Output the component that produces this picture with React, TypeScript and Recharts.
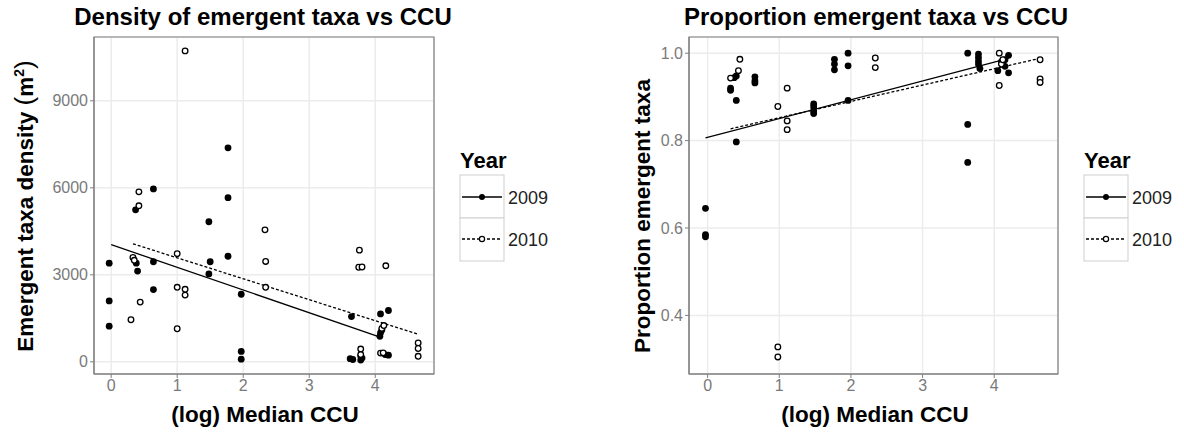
import React from 'react';
import {
  ComposedChart, Scatter, Line, XAxis, YAxis, CartesianGrid, ReferenceArea,
} from 'recharts';

// ---- data ----
const xTicks = [0, 1, 2, 3, 4];
const densityTicks = [0, 3000, 6000, 9000];
const propTicks = [0.4, 0.6, 0.8, 1.0];
const years = ['2009', '2010'];

const density2009 = [
  [-0.03, 3400], [-0.03, 2100], [-0.03, 1230],
  [0.37, 5240], [0.38, 3400], [0.4, 3130],
  [0.64, 5960], [0.64, 3450], [0.64, 2490],
  [1.48, 4830], [1.5, 3450], [1.48, 3030],
  [1.77, 7380], [1.77, 5660], [1.77, 3640],
  [1.97, 2330], [1.97, 360], [1.97, 90],
  [3.64, 1560], [3.62, 110], [3.66, 80], [3.78, 200], [3.78, 60], [3.8, 130],
  [4.08, 1650], [4.08, 1000], [4.1, 1100], [4.07, 880], [4.2, 1770], [4.2, 230], [4.15, 250],
];
const density2010 = [
  [0.3, 1450], [0.33, 3600], [0.35, 3500], [0.42, 5380], [0.42, 5860], [0.44, 2060],
  [1.0, 3730], [1.0, 2570], [1.0, 1140], [1.12, 2500], [1.12, 2300], [1.12, 10720],
  [2.33, 4550], [2.34, 3460], [2.34, 2570],
  [3.76, 3850], [3.75, 3260], [3.8, 3270], [4.16, 3310],
  [3.78, 440], [3.78, 250], [4.08, 300], [4.12, 310], [4.1, 1150], [4.13, 1250],
  [4.65, 650], [4.65, 460], [4.65, 190],
];
const densityFit2009 = [[0, 4040], [4.04, 880]];
const densityFit2010 = [[0.33, 4070], [4.65, 950]];

const prop2009 = [
  [-0.03, 0.645], [-0.03, 0.585], [-0.03, 0.58],
  [0.32, 0.92], [0.32, 0.915], [0.4, 0.948], [0.4, 0.892], [0.4, 0.797], [0.37, 0.944],
  [0.66, 0.946], [0.66, 0.937], [0.66, 0.932],
  [1.48, 0.884], [1.48, 0.877], [1.48, 0.868], [1.48, 0.862],
  [1.77, 0.986], [1.77, 0.975], [1.77, 0.962],
  [1.96, 1.0], [1.96, 0.971], [1.96, 0.892],
  [3.63, 1.0], [3.63, 0.837], [3.63, 0.75],
  [3.78, 0.998], [3.78, 0.99], [3.78, 0.982], [3.78, 0.975], [3.8, 0.965],
  [4.05, 0.96], [4.1, 0.98], [4.12, 0.975], [4.15, 0.985], [4.2, 0.995], [4.2, 0.955], [4.15, 0.97],
];
const prop2010 = [
  [0.32, 0.943], [0.45, 0.986], [0.43, 0.96],
  [0.98, 0.878], [0.98, 0.328], [0.98, 0.305],
  [1.11, 0.92], [1.11, 0.845], [1.11, 0.825],
  [2.34, 0.989], [2.34, 0.967],
  [4.07, 1.0], [4.07, 0.926], [4.1, 0.975], [4.12, 0.985],
  [4.64, 0.985], [4.64, 0.941], [4.64, 0.933],
];
const propFit2009 = [[-0.03, 0.806], [4.2, 0.988]];
const propFit2010 = [[0.32, 0.827], [4.66, 0.989]];

const toPts = (arr: number[][]) => arr.map(([x, y]) => ({ x, y }));

const FONT = '"Liberation Sans", Arial, sans-serif';
const X_DOMAIN = [-0.26, 4.89];

const Filled = (p: any) => <circle cx={p.cx} cy={p.cy} r={3.4} fill="#000" />;
const Open = (p: any) => <circle cx={p.cx} cy={p.cy} r={2.8} fill="#fff" stroke="#000" strokeWidth={1.3} />;

function YearLegend({ left }: { left: number }) {
  return (
    <svg width={110} height={120} style={{ position: 'absolute', left, top: 146, fontFamily: FONT, overflow: 'visible' }}>
      <text x={2} y={22} fontSize={22} fontWeight="bold" fill="#000">Year</text>
      <rect x={2} y={29} width={44} height={43} fill="#fff" stroke="#cfcfcf" />
      <rect x={2} y={72} width={44} height={43} fill="#fff" stroke="#cfcfcf" />
      <line x1={4} x2={44} y1={51} y2={51} stroke="#000" strokeWidth={1.3} />
      <circle cx={24} cy={51} r={3} fill="#000" />
      <line x1={4} x2={44} y1={93} y2={93} stroke="#000" strokeWidth={1.3} strokeDasharray="3 2" />
      <circle cx={24} cy={93} r={2.6} fill="#fff" stroke="#000" strokeWidth={1.2} />
      <text x={50} y={58} fontSize={18} fill="#222">{years[0]}</text>
      <text x={50} y={100} fontSize={18} fill="#222">{years[1]}</text>
    </svg>
  );
}

interface PanelProps {
  d2009: number[][];
  d2010: number[][];
  f2009: number[][];
  f2010: number[][];
  yTicks: number[];
  yDomain: number[];
  yFmt: (v: number) => string;
  marginLeft: number;
  marginRight: number;
}

function Panel({ d2009, d2010, f2009, f2010, yTicks, yDomain, yFmt, marginLeft, marginRight }: PanelProps) {
  const tick = { fontSize: 16, fill: '#7a7a7a', fontFamily: FONT };
  return (
    <ComposedChart width={592} height={432} margin={{ top: 37, right: marginRight, bottom: 28, left: marginLeft }}>
      <CartesianGrid stroke="#ececec" strokeWidth={1.5} />
      <XAxis
        type="number" dataKey="x" domain={X_DOMAIN} ticks={xTicks} allowDataOverflow
        height={30} tick={tick} tickSize={4} stroke="#7f7f7f" tickLine={{ stroke: '#7f7f7f' }}
      />
      <YAxis
        type="number" dataKey="y" domain={yDomain} ticks={yTicks} allowDataOverflow
        width={50} tick={tick} tickSize={4} tickFormatter={yFmt} stroke="#7f7f7f" tickLine={{ stroke: '#7f7f7f' }}
      />
      <ReferenceArea x1={X_DOMAIN[0]} x2={X_DOMAIN[1]} y1={yDomain[0]} y2={yDomain[1]} fill="none" stroke="#7f7f7f" strokeWidth={1.2} />
      <Line data={toPts(f2009)} dataKey="y" type="linear" stroke="#000" strokeWidth={1.3} dot={false} isAnimationActive={false} />
      <Line data={toPts(f2010)} dataKey="y" type="linear" stroke="#000" strokeWidth={1.3} strokeDasharray="3 2" dot={false} isAnimationActive={false} />
      <Scatter data={toPts(d2009)} shape={Filled} isAnimationActive={false} />
      <Scatter data={toPts(d2010)} shape={Open} isAnimationActive={false} />
    </ComposedChart>
  );
}

const abs = (style: React.CSSProperties): React.CSSProperties => ({ position: 'absolute', fontFamily: FONT, color: '#000', whiteSpace: 'nowrap', ...style });

export default function App() {
  return (
    <div style={{ position: 'absolute', left: 0, top: 0, width: 1184, height: 432, background: '#fff', overflow: 'hidden' }}>
      <div style={{ position: 'absolute', left: 0, top: 0 }}>
        <Panel
          d2009={density2009} d2010={density2010} f2009={densityFit2009} f2010={densityFit2010}
          yTicks={densityTicks} yDomain={[-420, 11200]} yFmt={(v) => String(v)}
          marginLeft={44} marginRight={158}
        />
      </div>
      <div style={{ position: 'absolute', left: 592, top: 0 }}>
        <Panel
          d2009={prop2009} d2010={prop2010} f2009={propFit2009} f2010={propFit2010}
          yTicks={propTicks} yDomain={[0.266, 1.037]} yFmt={(v) => v.toFixed(1)}
          marginLeft={47} marginRight={126}
        />
      </div>
      <YearLegend left={458} />
      <YearLegend left={1082} />

      <div style={abs({ left: 263, top: 17, transform: 'translate(-50%,-50%)', fontSize: 24, fontWeight: 'bold' })}>
        Density of emergent taxa vs CCU
      </div>
      <div style={abs({ left: 876, top: 17, transform: 'translate(-50%,-50%)', fontSize: 24, fontWeight: 'bold' })}>
        Proportion emergent taxa vs CCU
      </div>

      <div style={abs({ left: 265, top: 415, transform: 'translate(-50%,-50%)', fontSize: 22.5, fontWeight: 'bold' })}>
        (log) Median CCU
      </div>
      <div style={abs({ left: 875, top: 415, transform: 'translate(-50%,-50%)', fontSize: 22.5, fontWeight: 'bold' })}>
        (log) Median CCU
      </div>

      <div style={abs({ left: 24, top: 206, transform: 'translate(-50%,-50%) rotate(-90deg)', fontSize: 22.5, fontWeight: 'bold' })}>
        Emergent taxa density&nbsp;<span style={{ fontSize: 26, fontWeight: 'normal' }}>(</span>m<sup style={{ fontSize: 14 }}>2</sup><span style={{ fontSize: 26, fontWeight: 'normal' }}>)</span>
      </div>
      <div style={abs({ left: 643, top: 216, transform: 'translate(-50%,-50%) rotate(-90deg)', fontSize: 22.5, fontWeight: 'bold' })}>
        Proportion emergent taxa
      </div>
    </div>
  );
}
